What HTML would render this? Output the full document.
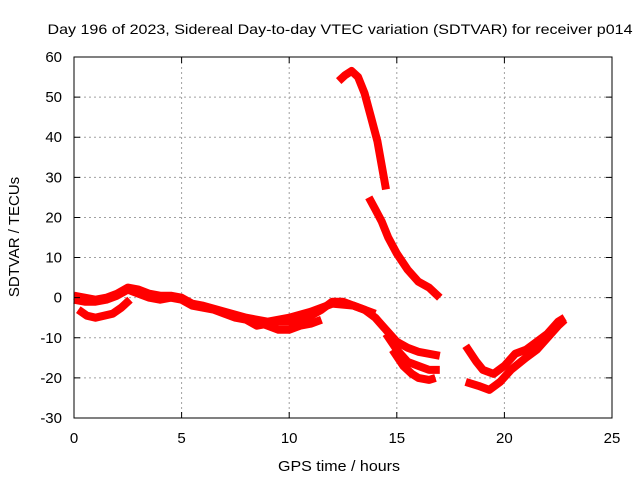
<!DOCTYPE html>
<html><head><meta charset="utf-8"><style>
html,body{margin:0;padding:0;background:#fff;}
svg{display:block;font-family:"Liberation Sans",sans-serif;}
</style></head><body>
<svg id="chart" width="640" height="480" viewBox="0 0 640 480">
<rect width="640" height="480" fill="#fff"/>
<text x="340" y="34" font-size="14" text-anchor="middle" textLength="585" lengthAdjust="spacingAndGlyphs">Day 196 of 2023, Sidereal Day-to-day VTEC variation (SDTVAR) for receiver p014</text>
<g id="grid"></g>
<g id="series"></g>
<rect x="74" y="57" width="538" height="361" fill="none" stroke="#000" stroke-width="1"/>
<g id="ticks"></g>
<text x="339" y="471" font-size="15" text-anchor="middle" textLength="122" lengthAdjust="spacingAndGlyphs">GPS time / hours</text>
<text transform="translate(19,237) rotate(-90)" font-size="15" text-anchor="middle">SDTVAR / TECUs</text>
</svg>
<script>
const xTicks=[0,5,10,15,20,25];
const yTicks=[-30,-20,-10,0,10,20,30,40,50,60];
const seriesMainH=[0,0.5,1,1.5,2,2.5,3,3.5,4,4.5,5,5.5,6,6.5,7,7.5,8,8.5,9,9.5,10,10.5,11,11.5,12,12.5,13,13.5,14,14.5,15,15.5,16,16.5,17];
const seriesMainV=[-0.5,-1,-1,-0.5,0.5,2,1,0,-0.5,0,-0.5,-2,-2.5,-3,-4,-5,-5.5,-7,-6.5,-6,-6,-5.5,-4.5,-3,-1,-1,-2,-3,-5,-8,-11,-12.5,-13.5,-14,-14.5];
const seriesMain2H=[0,0.5,1,1.5,2,2.5,3,3.5,4,4.5,5,5.5,6,7,8,9,10,11,12,13,14];
const seriesMain2V=[0.5,0,-0.5,0,1,2.5,2,1,0.5,0.5,0,-1.5,-2,-3.5,-5,-6,-5,-3.5,-1.5,-2,-4];
const seriesLowH=[0.2,0.6,1,1.4,1.8,2.2,2.6];
const seriesLowV=[-3,-4.5,-5,-4.5,-4,-2.5,-0.5];
const seriesMidH=[8.5,9,9.5,10,10.5,11,11.5];
const seriesMidV=[-6,-7,-8,-8,-7,-6.5,-5.5];
const seriesSplitAH=[14.5,15,15.5,16,16.5,17];
const seriesSplitAV=[-9,-13,-16,-17,-18,-18];
const seriesSplitBH=[14.8,15.3,15.7,16,16.5,16.8];
const seriesSplitBV=[-13,-17,-19,-20,-20.5,-20];
const seriesRightAH=[18.2,18.7,19,19.5,20,20.5,21,21.5,22,22.5,22.8];
const seriesRightAV=[-12,-16,-18,-19,-17,-14,-13,-11,-9,-6,-5];
const seriesRightBH=[18.2,18.8,19.3,19.8,20.3,21,21.5,22,22.5,22.8];
const seriesRightBV=[-21,-22,-23,-21,-18,-15,-13,-10,-7,-5.5];
const seriesUpperH=[12.3,12.6,12.9,13.2,13.5,13.8,14.1,14.3,14.5];
const seriesUpperV=[54,55.5,56.5,55,51,45,39,33,27];
const seriesDescH=[13.7,14,14.3,14.6,15,15.5,16,16.5,17];
const seriesDescV=[25,22,19,15,11,7,4,2.5,0];
const NS='http://www.w3.org/2000/svg';
const X0=74,X1=612,Y0=418,Y1=57;
function xs(h){return X0+(h-0)/(25-0)*(X1-X0);}
function ys(v){return Y0-(v+30)/(90)*(Y0-Y1);}
const grid=document.getElementById('grid'),ticks=document.getElementById('ticks'),ser=document.getElementById('series');
function mk(tag,attrs,parent){const e=document.createElementNS(NS,tag);for(const k in attrs)e.setAttribute(k,attrs[k]);parent.appendChild(e);return e;}
xTicks.forEach(t=>{
 const x=xs(t);
 if(t>0&&t<25){const g=mk('line',{x1:x,x2:x,y1:Y1,y2:Y0,stroke:'#a0a0a0','stroke-dasharray':'2,3'},grid);
 
 }
 const tk=mk('path',{d:`M${x},${Y0}v-6M${x},${Y1}v6`,stroke:'#000'},ticks);
 
 
 const l=mk('text',{x:x,y:Y0+25,'font-size':15,'text-anchor':'middle'},ticks);l.textContent=t;
 
 
});
yTicks.forEach(t=>{
 const y=ys(t);
 if(t>-30&&t<60){const g=mk('line',{x1:X0,x2:X1,y1:y,y2:y,stroke:'#a0a0a0','stroke-dasharray':'2,3'},grid);
 
 }
 const tk=mk('path',{d:`M${X0},${y}h6M${X1},${y}h-6`,stroke:'#000'},ticks);
 
 
 const l=mk('text',{x:X0-12,y:y+5,'font-size':15,'text-anchor':'end'},ticks);l.textContent=t;
 
 
});
const all=[[seriesMainH,seriesMainV,'series-main'],[seriesMain2H,seriesMain2V,'series-main-2'],[seriesLowH,seriesLowV,'series-low'],[seriesMidH,seriesMidV,'series-mid'],[seriesSplitAH,seriesSplitAV,'series-split-a'],[seriesSplitBH,seriesSplitBV,'series-split-b'],[seriesRightAH,seriesRightAV,'series-right-a'],[seriesRightBH,seriesRightBV,'series-right-b'],[seriesUpperH,seriesUpperV,'series-upper'],[seriesDescH,seriesDescV,'series-descending']];
all.forEach(([H,V,name])=>{
 const pts=H.map((h,i)=>xs(h).toFixed(1)+','+ys(V[i]).toFixed(1)).join(' ');
 const p=mk('polyline',{points:pts,fill:'none',stroke:'#ff0000','stroke-width':8,'stroke-linejoin':'round','stroke-linecap':'butt'},ser);
 
 
});
</script>
</body></html>
